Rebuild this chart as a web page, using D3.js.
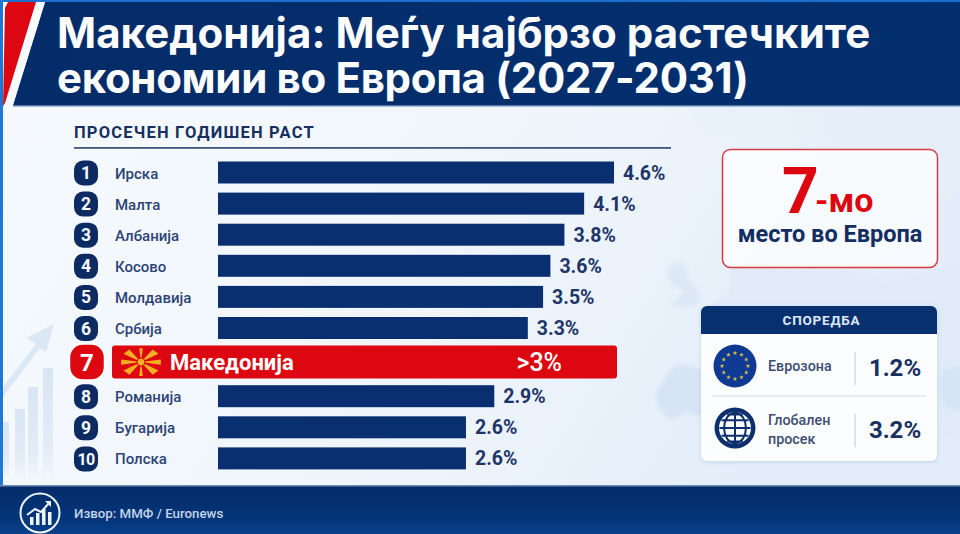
<!DOCTYPE html>
<html lang="mk">
<head>
<meta charset="utf-8">
<title>Просечен годишен раст</title>
<script src="https://cdn.jsdelivr.net/npm/d3@7/dist/d3.min.js"></script>
<style>
  html, body { margin: 0; padding: 0; background: #f2f7fc; }
  svg { display: block; font-family: Roboto, "Noto Sans", sans-serif; }
</style>
</head>
<body>
<svg id="chart" width="960" height="534" viewBox="0 0 960 534"></svg>
<script>
// Growth ranking, 2027-2031 average
const ranks = [1, 2, 3, 4, 5, 6, 7, 8, 9, 10];
const countries = ["Ирска", "Малта", "Албанија", "Косово", "Молдавија", "Србија", "Македонија", "Романија", "Бугарија", "Полска"];
const growth = [4.6, 4.1, 3.8, 3.6, 3.5, 3.3, 3, 2.9, 2.6, 2.6];
const highlightRank = 7;

// Comparison card
const compareNames = [["Еврозона"], ["Глобален", "просек"]];
const compareValues = [1.2, 3.2];

const titleLines = ["Македонија: Меѓу најбрзо растечките", "економии во Европа (2027-2031)"];

const BAR = "#0a2f70", RED = "#dc0711", INK = "#1d3568";
const svg = d3.select("#chart");
const defs = svg.append("defs");

function gradient(id, x2, y2, stops) {
  const g = defs.append("linearGradient").attr("id", id)
    .attr("x1", 0).attr("y1", 0).attr("x2", x2).attr("y2", y2);
  stops.forEach(([o, c]) => g.append("stop").attr("offset", o).attr("stop-color", c));
}
gradient("page", 1, 0.35, [[0, "#f6fafe"], [0.55, "#f1f6fc"], [1, "#e2edf9"]]);
gradient("foot", 0, 1, [[0, "#032c68"], [0.7, "#04357a"], [1, "#08418d"]]);
gradient("head", 1, 0, [[0, "#042c68"], [1, "#032f6f"]]);
gradient("fade", 0, 1, [[0, "#d8e6f3"], [0.7, "#e1ecf6"], [1, "#f1f6fb"]]);
const shadow = defs.append("filter").attr("id", "soft")
  .attr("x", "-10%").attr("y", "-10%").attr("width", "120%").attr("height", "125%");
shadow.append("feDropShadow").attr("dx", 0).attr("dy", 1).attr("stdDeviation", 2)
  .attr("flood-color", "#7f9cc0").attr("flood-opacity", 0.35);
const haze = defs.append("filter").attr("id", "haze");
haze.append("feGaussianBlur").attr("stdDeviation", 2);

// Page background
svg.append("rect").attr("width", 960).attr("height", 534).attr("fill", "url(#page)");

// Faint map of Europe behind the side panels
const coast = d3.line().curve(d3.curveCatmullRomClosed.alpha(0.5));
const land = svg.append("g").attr("filter", "url(#haze)");
[
  ["#d6e4f4", [[677, 365], [700, 369], [722, 372], [736, 380], [728, 398], [712, 408], [700, 416], [686, 412], [672, 420], [664, 414], [656, 396], [664, 380]]],
  ["#dce8f5", [[668, 270], [682, 262], [690, 280], [700, 296], [694, 306], [672, 304], [684, 292], [672, 284]]],
  ["#e0ebf7", [[730, 270], [760, 262], [790, 270], [830, 268], [880, 280], [960, 270], [975, 420], [937, 440], [925, 400], [880, 400], [820, 360], [760, 330], [720, 322], [712, 306], [730, 290]]],
  ["#e6eff9", [[820, 120], [860, 108], [930, 106], [975, 112], [960, 190], [920, 210], [900, 250], [860, 260], [835, 240], [850, 190], [880, 150], [845, 150]]],
  ["#e9f1fa", [[690, 112], [760, 110], [800, 140], [780, 150], [740, 140], [710, 135]]],
  ["#d6e4f4", [[942, 372], [965, 368], [965, 410], [945, 405]]]
].forEach(([fill, pts]) => land.append("path").attr("fill", fill).attr("d", coast(pts)));

// Rising bars and arrow at the left edge
const deco = svg.append("g").attr("fill", "#dbe8f4");
[[3, 422, 6], [15, 409, 10], [28, 387, 10], [43, 368, 10]].forEach(([bx, by, w]) =>
  deco.append("rect").attr("x", bx).attr("y", by).attr("width", w).attr("height", 478 - by).attr("fill", "url(#fade)"));
deco.append("path").attr("d", "M0 391 L36 344 L26 338 L54 324 L46 352 L40 348 L2 398 Z");

// Header band with slanted red corner
svg.append("rect").attr("width", 960).attr("height", 2).attr("fill", "#1c6fd0");
svg.append("path").attr("d", "M45 2 H960 V105 H13 Z").attr("fill", "url(#head)");
svg.append("rect").attr("x", 13).attr("y", 105).attr("width", 947).attr("height", 1.5).attr("fill", "#5c7ba8");
svg.append("path").attr("d", "M36 2 H45 L13 105 H5 Z").attr("fill", "#f8fbff");
svg.append("path").attr("d", "M5 8 L8 2 H36 L5 103 L3 106 Z").attr("fill", RED);
svg.append("rect").attr("x", 0).attr("y", 0).attr("width", 3).attr("height", 490).attr("fill", "#1f78d6");

svg.append("g").selectAll("text").data(titleLines).join("text")
  .attr("x", 57).attr("y", (d, i) => i ? 93 : 48)
  .attr("font-family", "Inter, Roboto, sans-serif")
  .attr("font-size", 42).attr("font-weight", 700).attr("fill", "#fbfdff")
  .attr("letter-spacing", (d, i) => i ? -0.33 : 0.05)
  .text(d => d);

// Footer
svg.append("rect").attr("x", 0).attr("y", 486).attr("width", 960).attr("height", 48).attr("fill", "url(#foot)");
svg.append("rect").attr("x", 0).attr("y", 485).attr("width", 960).attr("height", 1.5).attr("fill", "#6f8db5");
const badge = svg.append("g").attr("transform", "translate(40,513)")
  .attr("fill", "none").attr("stroke", "#eef4fb").attr("stroke-width", 2);
badge.append("circle").attr("r", 19.5);
[[-10, 4, 8], [-4, 0, 12], [2, -4, 16], [8, -1, 13]].forEach(([bx, by, h]) =>
  badge.append("rect").attr("x", bx).attr("y", by).attr("width", 3.5).attr("height", h)
    .attr("stroke", "none").attr("fill", "#eef4fb"));
badge.append("path").attr("d", "M-13 2 L-5 -4 L1 -1 L10 -11");
badge.append("path").attr("d", "M5 -12 L11 -12 L11 -6").attr("fill", "#eef4fb").attr("stroke", "none");
svg.append("text").attr("x", 74).attr("y", 518).attr("font-size", 13.3)
  .attr("fill", "#c3d4e8").attr("font-weight", 500).text("Извор: ММФ / Euronews");

// Ranking heading
svg.append("text").attr("x", 74).attr("y", 138).attr("font-size", 16.5)
  .attr("font-weight", 700).attr("letter-spacing", 1.2).attr("fill", "#16305f")
  .text("ПРОСЕЧЕН ГОДИШЕН РАСТ");
svg.append("rect").attr("x", 74).attr("y", 147).attr("width", 597).attr("height", 1.8).attr("fill", "#44557c");

// Scales: bar ends sit on a logarithmic growth axis; the highlighted row is spaced apart
const x = d3.scaleLog().domain([1, d3.max(growth)]).range([218, 614]);
const rowY = d3.scaleLinear().domain([1, 10]).range([172.5, 452.4]);
const y = r => rowY(r) + (r === highlightRank ? 3 : r > highlightRank ? 6 : 0);
const barH = 22;
const pct = d3.format(".1f");

const rows = ranks.map((r, i) => ({ rank: r, name: countries[i], value: growth[i] }));
const plain = rows.filter(d => d.rank !== highlightRank);
const marked = rows.find(d => d.rank === highlightRank);

const rowG = svg.append("g").selectAll("g").data(plain).join("g")
  .attr("transform", d => `translate(0,${y(d.rank)})`);
rowG.append("rect").attr("x", 74).attr("y", -12).attr("width", 24).attr("height", 25).attr("rx", 9).attr("fill", "#0c2b63");
rowG.append("text").attr("x", 86).attr("y", 6.5).attr("text-anchor", "middle")
  .attr("font-size", d => d.rank === 10 ? 16 : 17.5).attr("font-weight", 700).attr("fill", "#f7faff")
  .attr("letter-spacing", d => d.rank === 10 ? -0.8 : 0).text(d => d.rank);
rowG.append("text").attr("x", 115).attr("y", 6).attr("font-size", 15)
  .attr("font-weight", 500).attr("fill", "#2c4475").text(d => d.name);
rowG.append("rect").attr("x", x(1)).attr("y", -barH / 2)
  .attr("width", d => x(d.value) - x(1)).attr("height", barH).attr("fill", BAR);
rowG.append("text").attr("x", d => x(d.value) + 9).attr("y", 7)
  .attr("font-size", 19.5).attr("font-weight", 700).attr("fill", INK)
  .text(d => pct(d.value) + "%");

// Highlighted row: a full-width band rather than a proportional bar
const hi = svg.append("g").attr("transform", `translate(0,${y(marked.rank)})`);
hi.append("rect").attr("x", 112).attr("y", -16.5).attr("width", x.range()[1] + 3 - 112).attr("height", 33)
  .attr("rx", 3).attr("fill", RED);
hi.append("rect").attr("x", 69.5).attr("y", -18).attr("width", 35).attr("height", 36).attr("rx", 13)
  .attr("fill", RED).attr("stroke", "#fff").attr("stroke-width", 1.5);
hi.append("text").attr("x", 87).attr("y", 8.5).attr("text-anchor", "middle")
  .attr("font-size", 24).attr("font-weight", 700).attr("fill", "#fff").text(marked.rank);
hi.append("text").attr("x", 170).attr("y", 7.5).attr("font-size", 22).attr("font-weight", 700)
  .attr("fill", "#fff").text(marked.name);
hi.append("text").attr("x", 562).attr("y", 9).attr("text-anchor", "end").attr("font-size", 25)
  .attr("font-weight", 500).attr("fill", "#fff").text(">" + marked.value + "%");

// Sun of the Macedonian flag
const flagClip = defs.append("clipPath").attr("id", "flagClip");
flagClip.append("rect").attr("x", -20).attr("y", -14).attr("width", 40).attr("height", 28);
const flag = hi.append("g").attr("transform", "translate(141,0)");
const sun = flag.append("g").attr("clip-path", "url(#flagClip)").attr("fill", "#f6ae22");
d3.range(8).forEach(k => {
  const a = k * Math.PI / 4;
  const spread = k % 2 ? 0.2 : 0.13;
  const reach = k % 2 ? 21 : (k % 4 === 0 ? 20 : 14);
  const p = t => [reach * Math.cos(t), reach * Math.sin(t) * (k % 2 ? 0.72 : 1)];
  sun.append("path").attr("d", d3.line()([[0, 0], p(a - spread), p(a + spread)]));
});
flag.append("circle").attr("r", 4).attr("fill", "#f6ae22").attr("stroke", RED).attr("stroke-width", 1);

// Rank callout
const callout = svg.append("g");
callout.append("rect").attr("x", 722.5).attr("y", 149.5).attr("width", 215).attr("height", 118).attr("rx", 8)
  .attr("fill", "#fff").attr("fill-opacity", 0.72).attr("stroke", "#d63a42").attr("stroke-width", 1.5);
callout.append("text").attr("x", 782).attr("y", 213).attr("font-size", 64).attr("font-weight", 700)
  .attr("fill", RED).text(marked.rank);
callout.append("text").attr("x", 815).attr("y", 212).attr("font-size", 34).attr("font-weight", 700)
  .attr("fill", RED).text("-мо");
callout.append("text").attr("x", 830).attr("y", 242).attr("text-anchor", "middle").attr("font-size", 23.5)
  .attr("font-weight", 700).attr("fill", "#142e62").text("место во Европа");

// Comparison card
const card = svg.append("g");
card.append("rect").attr("x", 701).attr("y", 306).attr("width", 236).attr("height", 155).attr("rx", 6)
  .attr("fill", "#fbfdff").attr("filter", "url(#soft)");
card.append("path").attr("d", "M701 334 V312 A6 6 0 0 1 707 306 H931 A6 6 0 0 1 937 312 V334 Z").attr("fill", "#07306e");
card.append("text").attr("x", 821.5).attr("y", 325).attr("text-anchor", "middle").attr("font-size", 13.5)
  .attr("font-weight", 700).attr("letter-spacing", 0.8).attr("fill", "#dfe9f6").text("СПОРЕДБА");
card.append("rect").attr("x", 712).attr("y", 395.5).attr("width", 214).attr("height", 1.2).attr("fill", "#dbe2eb");

const cmpY = [368, 430];
compareValues.forEach((v, i) => {
  card.append("rect").attr("x", 854.5).attr("y", cmpY[i] - 16).attr("width", 1.3).attr("height", 33).attr("fill", "#cfd8e4");
  card.append("text").attr("x", 895).attr("y", cmpY[i] + 8).attr("text-anchor", "middle")
    .attr("font-size", 24).attr("font-weight", 700).attr("fill", "#18305f").text(pct(v) + "%");
  const names = compareNames[i];
  names.forEach((n, j) => card.append("text").attr("x", 768)
    .attr("y", cmpY[i] + 3 + (names.length > 1 ? (j - 0.5) * 19 + 1 : 0))
    .attr("font-size", 14.3).attr("font-weight", 500).attr("fill", "#3c4d74").text(n));
});

// Euro flag disc
const eu = card.append("g").attr("transform", "translate(735,366)");
eu.append("circle").attr("r", 21.5).attr("fill", "#0f3a93");
const star = d3.symbol().type(d3.symbolStar).size(7);
d3.range(12).forEach(k => {
  const a = k * Math.PI / 6;
  eu.append("path").attr("d", star()).attr("fill", "#d8c04a")
    .attr("transform", `translate(${13 * Math.sin(a)},${-13 * Math.cos(a)})`);
});

// Globe icon
const globe = card.append("g").attr("transform", "translate(735,428)");
const proj = d3.geoOrthographic().scale(15.5).translate([0, 0]).clipAngle(90);
globe.append("circle").attr("r", 20.5).attr("fill", "#0d2f6b");
globe.append("circle").attr("r", 16).attr("fill", "#fbfdff");
globe.append("path").attr("d", d3.geoPath(proj)(d3.geoGraticule().step([45, 30])()))
  .attr("fill", "none").attr("stroke", "#0d2f6b").attr("stroke-width", 2);
</script>
</body>
</html>
